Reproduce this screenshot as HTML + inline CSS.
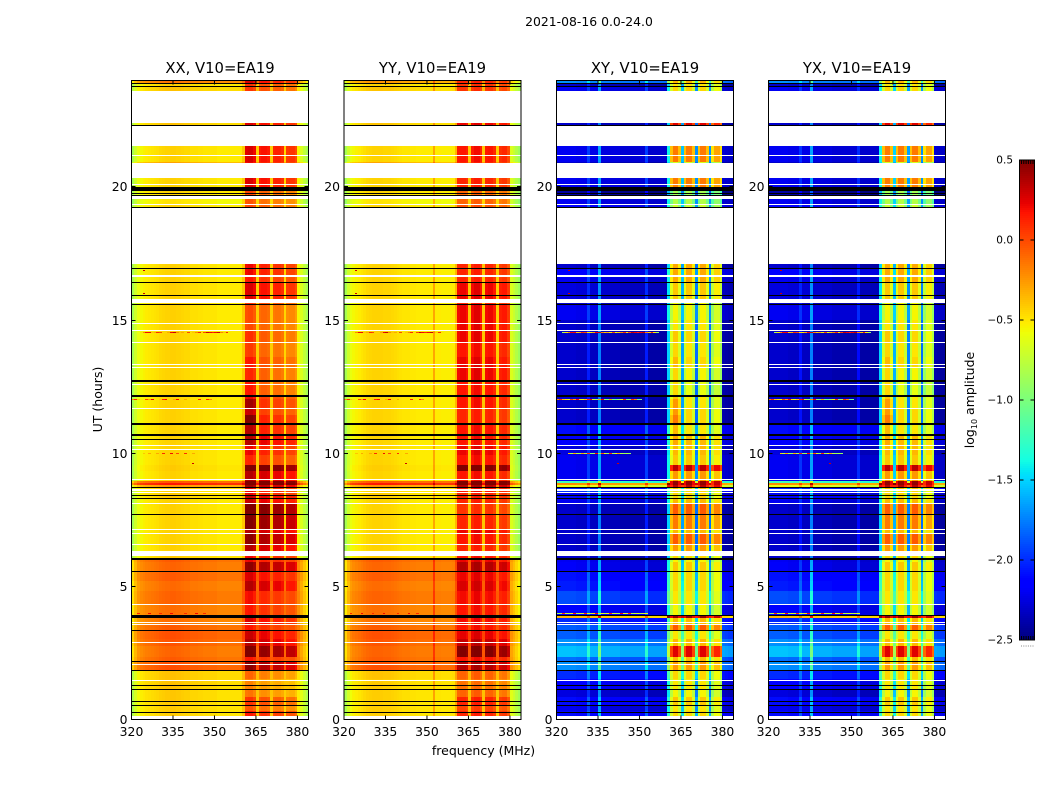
<!DOCTYPE html>
<html>
<head>
<meta charset="utf-8">
<style>
html,body{margin:0;padding:0;background:#fff;}
svg{display:block;}
text{font-family:"DejaVu Sans","Liberation Sans",sans-serif;fill:#000;}
</style>
</head>
<body>
<svg id="chart" xmlns="http://www.w3.org/2000/svg" width="1050" height="800" viewBox="0 0 1050 800">
<rect x="0" y="0" width="1050" height="800" fill="#fff"/>
<text x="589" y="26" font-size="12.4" text-anchor="middle">2021-08-16 0.0-24.0</text>
<text x="483.5" y="755" font-size="12.5" text-anchor="middle">frequency (MHz)</text>
<text transform="translate(102,399.5) rotate(-90)" font-size="12.5" text-anchor="middle">UT (hours)</text>
<text transform="translate(974,400) rotate(-90)" font-size="12.5" text-anchor="middle">log<tspan font-size="8" dy="3">10</tspan><tspan dy="-3"> amplitude</tspan></text>
<g id="panels"></g>
<g id="colorbar"></g>
</svg>
<script>
const panelTitles = ['XX, V10=EA19', 'YY, V10=EA19', 'XY, V10=EA19', 'YX, V10=EA19'];
const xTicks = [320, 335, 350, 365, 380];
const yTicks = [0, 5, 10, 15, 20];
const cbTicks = [-2.5, -2.0, -1.5, -1.0, -0.5, 0.0, 0.5];
const cbLabels = ['\u22122.5', '\u22122.0', '\u22121.5', '\u22121.0', '\u22120.5', '0.0', '0.5'];

// UT hour edges of the time segments
const hourEdges = [0,.11,.30,.55,.85,1.15,1.5,1.84,2.17,2.35,2.75,3.0,3.34,3.56,3.79,3.87,4.34,4.8,5.2,5.55,5.9,6.01,6.14,6.31,6.56,6.98,7.13,7.69,8.1,8.29,8.41,8.48,8.53,8.58,8.63,8.7,8.8,8.86,8.95,9.3,9.55,9.9,10.28,10.68,11.09,11.4,11.67,12.0,12.14,12.7,13.2,13.6,14.14,14.6,15.0,15.56,15.63,15.77,16.4,16.6,16.67,16.9,17.08,19.18,19.35,19.52,19.65,19.96,20.32,20.83,20.9,21.51,22.26,22.38,23.58,23.76,23.86,24];

// spectrum per 1 MHz channel, log10 amplitude
const specXX = [-.85,-.7,-.6,-.56,-.54,-.52,-.51,-.5,-.49,-.48,-.46,-.45,-.44,-.44,-.43,-.43,-.44,-.44,-.45,-.46,-.46,-.48,-.48,-.48,-.49,-.49,-.5,-.5,-.5,-.5,-.5,-.52,-.52,-.52,-.52,-.52,-.52,-.52,-.52,-.52,-.4,.1,.12,.12,.06,-.42,0,.03,.03,0,-.42,-.04,-.02,-.02,-.06,-.45,-.1,-.08,-.08,-.15,-.55,-.65,-.75,-.85];
const specYY = [-.85,-.7,-.6,-.56,-.54,-.52,-.5,-.48,-.46,-.45,-.44,-.44,-.44,-.44,-.45,-.45,-.45,-.46,-.47,-.48,-.49,-.5,-.5,-.5,-.51,-.51,-.52,-.52,-.52,-.52,-.52,-.52,-.3,-.52,-.52,-.53,-.53,-.53,-.53,-.52,-.35,.1,.12,.12,.08,-.4,.1,.15,.15,.08,-.4,.1,.12,.12,.05,-.42,.03,.06,.06,-.05,-.65,-.72,-.8,-.88];
const specXY = [-2.3,-2.3,-2.3,-2.3,-2.3,-2.3,-2.3,-2.32,-2.32,-2.32,-2.32,-2.05,-2.33,-2.33,-2.33,-1.75,-2.35,-2.35,-2.35,-2.35,-2.35,-2.35,-2.35,-2.38,-2.38,-2.38,-2.38,-2.38,-2.38,-2.38,-2.38,-2.38,-2.05,-2.4,-2.4,-2.4,-2.4,-2.4,-2.4,-2.4,-1.5,-.78,-.55,-.55,-.78,-1.65,-.78,-.55,-.55,-.78,-1.8,-.78,-.55,-.55,-.78,-1.8,-.9,-.68,-.68,-.9,-2.38,-2.4,-2.42,-2.42];
const specYX = [-2.3,-2.3,-2.3,-2.3,-2.3,-2.3,-2.3,-2.32,-2.32,-2.32,-2.32,-2.08,-2.33,-2.33,-2.33,-1.75,-2.35,-2.35,-2.35,-2.35,-2.35,-2.35,-2.35,-2.38,-2.38,-2.38,-2.38,-2.38,-2.38,-2.38,-2.38,-2.38,-2.1,-2.4,-2.4,-2.4,-2.4,-2.4,-2.4,-2.4,-1.5,-.78,-.55,-.55,-.78,-1.6,-.78,-.55,-.55,-.78,-1.75,-.78,-.55,-.55,-.78,-1.8,-.9,-.68,-.68,-.9,-2.38,-2.4,-2.42,-2.42];

// per-segment level offsets: background channels and receiver-band channels (null = no data)
const N = null;
const lowXX = [N,.02,.02,.03,.03,.05,.05,.42,.38,.35, .4,.42,.38,.32,.5,.32,.36,.33,.38,.35, .38,.02,N,0,0,0,0,0,0,.02, .02,N,0,N,.05,.2,.6,.4,0,.02, 0,0,0,0,0,0,0,0,0,0, 0,0,0,0,0,0,N,0,0,N, 0,0,N,0,-.05,N,0,0,N,.15, 0,N,.05,N,.05,0,.3];
const highXX = [N,.05,-.15,-.05,-.25,-.3,-.2,.35,.05,.42, .25,.2,.05,.15,.5,.05,.08,.25,.15,.35, .1,.1,N,.25,.35,.25,.4,.45,.2,.2, .1,N,.1,N,.1,.3,.6,.55,.25,.5, 0,.1,.2,.1,.1,0,.05,0,-.1,-.1, -.05,-.12,-.08,-.12,-.12,-.05,N,.15,.05,N, .1,.1,N,-.1,-.15,N,-.1,.15,N,.1, .15,N,.15,N,-.05,-.05,.15];
const lowYY = [N,.02,.02,.02,.02,.03,.05,.42,.38,.36, .4,.42,.38,.32,.5,.32,.36,.33,.38,.35, .38,.02,N,0,0,0,0,0,0,.02, .02,N,0,N,.05,.2,.6,.4,0,.02, 0,0,0,0,0,0,0,0,0,0, 0,0,0,0,0,0,N,0,0,N, 0,0,N,0,-.05,N,0,0,N,.15, 0,N,.05,N,.05,0,.2];
const highYY = [N,0,-.1,0,-.2,-.25,-.2,.25,.05,.38, .2,.12,.05,.08,.4,.05,.08,.15,.1,.25, .1,.05,N,0,.05,.1,0,-.05,0,0, 0,N,.05,N,.05,.25,.5,.5,.05,.4, .05,.1,.05,.05,0,0,.05,.05,.05,.1, .1,.05,.1,.1,.1,0,N,.1,0,N, 0,0,N,-.15,-.2,N,-.2,0,N,0, .05,N,.1,N,-.05,-.05,0];
const lowXY = [N,.2,.1,.2,.05,.15,.3,.6,.5,.75, .6,.45,.45,.3,1.95,.15,.4,.25,.22,.12, .1,0,N,0,0,0,0,0,.1,.2, .1,N,.3,N,.3,1.7,2.1,1.1,.1,.1, .1,.05,.15,.2,0,0,0,0,0,0, 0,0,0,0,.1,0,N,.05,.1,N, .15,0,N,.15,.1,N,-.1,.1,N,0, .1,N,0,N,.1,0,.6];
const highXY = [N,.1,.05,.15,0,.05,.1,.3,.2,.8, .2,.05,.5,.2,1.0,0,.05,.1,.1,.15, 0,.1,N,.3,.5,.2,.4,.5,.2,.1, .1,N,.1,N,.2,.9,1.0,1.0,.3,.9, .15,.2,.2,.05,.1,.1,.05,.05,-.05,0, .1,.05,.1,.05,0,0,N,.15,.25,N, .25,.25,N,-.15,-.25,N,-.3,.4,N,-.1, .4,N,.8,N,.1,.05,.2];
const lowYX = [N,.2,.1,.2,.05,.15,.3,.6,.5,.75, .6,.45,.45,.3,1.95,.15,.4,.25,.22,.12, .1,0,N,0,0,0,0,0,.1,.2, .1,N,.3,N,.3,1.7,2.1,1.1,.1,.1, .1,.05,.15,.2,0,0,0,0,0,0, 0,0,0,0,.1,0,N,.05,.1,N, .15,0,N,.15,.1,N,-.1,.1,N,0, .1,N,0,N,.1,0,.6];
const highYX = [N,.1,.05,.15,0,.05,.1,.3,.2,.8, .2,.05,.5,.2,1.0,0,.05,.1,.1,.15, 0,.1,N,.3,.5,.2,.4,.5,.2,.1, .1,N,.1,N,.2,.9,1.0,1.0,.3,.9, .15,.2,.2,.05,.1,.1,.05,.05,-.05,0, .1,.05,.1,.05,0,0,N,.15,.25,N, .25,.25,N,-.15,-.25,N,-.3,.4,N,-.1, .4,N,.8,N,.1,.05,.2];
// extra level of the 361-365 MHz band in XX, XY and YX, per segment
const firstBandBoost = [0,0,0,0,0,0,0,0,0,0, 0,0,0,0,0,0,0,0,0,0, 0,0,0,0,0,0,0,0,0,0, 0,0,0,0,0,0,0,0,0,0, 0,0,.05,.15,.3,.2,.25,.1,.15,.1, .1,.05,.05,0,0,0,0,0,0,0, 0,0,0,0,0,0,0,0,0,0, 0,0,0,0,0,0,0];

// flagged integrations (UT hour and duration in hours)
const flagHours = [23.86,23.76,22.29,19.9,19.75,19.67,19.2,16.9,16.4,15.91,15.56,12.7,12.14,11.09,10.68,10.5,8.7,8.41,8.29,7.69,6.01,5.55,3.91,3.34,2.17,1.84,1.27,1.12,.67,.52,.26];
const flagSpans = [.03,.03,.04,.14,.03,.03,.04,.04,.04,.05,.05,.09,.07,.07,.07,.04,.04,.04,.04,.04,.08,.04,.04,.04,.04,.04,.04,.04,.04,.04,.04];
const autoFlagHours = [3.83];
const autoFlagSpans = [.08];
const gapHours = [21.19,20.87,20.08,19.35,14.86,14.6,14.14,13.32,13.22,12.57,11.67,10.28,10.13,9.03,8.1,7.13,6.98,6.56,4.34,3.64,3.56,2.89,2.06,1.46];

// narrow-band interference rows, one value per channel
const rfiHours = [14.52, 12.0, 10.0, 4.0];
const rfi14 = [N,N,-.8,-.5,-.2,.2,.2,-.4,-.3,.1,0,-.5,-.5,-.3,.2,.3,-.2,-.4,-.3,-.5,0,-.6,-.4,-.2,.1,-.5,0,.3,.2,.1,.2,.3,-.2,-.4,.1,-.5,-.9];
const rfi12 = [-.2,.1,-.4,-.5,-.6,0,-.3,.2,-.5,-.6,-.4,.1,.2,-.7,-.9,-.3,.2,-.9,-1,-.3,-1,-1.1,-.9,-.6,.1,-1,-.9,.1,-.2,-1.1,-1];
const rfi10 = [N,N,N,N,-.4,-.8,-.3,-.8,-.9,-.3,-.8,.1,-.9,-.9,.2,-.9,0,-.6,-.9,.1,-.9,-.6,-.3,-.8,-.9,-.8,-.9];
const rfi4 = [-.9,-.8,.1,-.7,-.8,-.6,.2,-.8,-.6,-.7,.1,-.6,-.8,-.5,.2,-.7,-.6,-.8,-.6,.1,-.7,-.7,-.8,.2,-.6,-.7,.1,-.8,-.7,-.6,-.8,-.7,-.6];
const spikeHours = [16.85, 16.4, 16.0, 9.6];
const spikeChans = [4, 4, 4, 22];
const spikeValues = [.3, .2, .3, .3];

const panelSpecs = [specXX, specYY, specXY, specYX];
const panelLows = [lowXX, lowYY, lowXY, lowYX];
const panelHighs = [highXX, highYY, highXY, highYX];
const rfiRows = [rfi14, rfi12, rfi10, rfi4];

const SVGNS = 'http://www.w3.org/2000/svg';
const panelLefts = [131.5, 344, 556.5, 768.5];
const panelW = 177, axTop = 80.5, axBottom = 719.5;
const hourPx = 26.65;
const chanPx = panelW / 64;
const scaleY = h => 719.25 - h * hourPx;
const scaleX = (left, f) => left + (f - 320) * chanPx;
const blockChans = [41,42,43,44,46,47,48,49,51,52,53,54,56,57,58,59];

function interp(t, pts) {
  for (let i = 1; i < pts.length; i++) {
    if (t <= pts[i][0]) {
      const a = pts[i - 1], b = pts[i];
      return a[1] + (b[1] - a[1]) * (t - a[0]) / (b[0] - a[0]);
    }
  }
  return pts[pts.length - 1][1];
}
function jet(v) {
  const t = Math.max(0, Math.min(1, (v + 2.5) / 3));
  const r = interp(t, [[0,0],[.35,0],[.66,1],[.89,1],[1,.5]]);
  const g = interp(t, [[0,0],[.125,0],[.375,1],[.64,1],[.91,0],[1,0]]);
  const b = interp(t, [[0,.5],[.11,1],[.34,1],[.65,0],[1,0]]);
  return 'rgb(' + Math.round(r * 255) + ',' + Math.round(g * 255) + ',' + Math.round(b * 255) + ')';
}
function make(tag, parent, attrs) {
  const el = document.createElementNS(SVGNS, tag);
  for (const k in attrs) el.setAttribute(k, attrs[k]);
  parent.appendChild(el);
  return el;
}

const panelsRoot = document.getElementById('panels');
panelTitles.forEach((title, p) => {
  const left = panelLefts[p];
  const g = make('g', panelsRoot, {});
  
  
  const spec = panelSpecs[p], low = panelLows[p], high = panelHighs[p];
  const cells = make('g', g, {'shape-rendering': 'crispEdges'});
  
  

  for (let s = 0; s < low.length; s++) {
    if (low[s] === null) continue;
    const y0 = Math.round(scaleY(hourEdges[s + 1])), y1 = Math.round(scaleY(hourEdges[s]));
    if (y1 <= y0) continue;
    for (let c = 0; c < 64; c++) {
      let off = blockChans.indexOf(c) >= 0 ? high[s] : low[s];
      if (p !== 1 && c >= 41 && c <= 44) off += firstBandBoost[s];
      const x0 = Math.round(scaleX(left, 320 + c)), x1 = Math.round(scaleX(left, 321 + c));
      const cell = make('rect', cells, {x: x0, y: y0, width: x1 - x0, height: y1 - y0, fill: jet(spec[c] + off)});
      
      
    }
  }
  rfiHours.forEach((h, r) => {
    const row = rfiRows[r];
    for (let c = 0; c < row.length; c++) {
      if (row[c] === null) continue;
      if (p < 2 && row[c] < spec[c]) continue;
      const x0 = Math.round(scaleX(left, 320 + c)), x1 = Math.round(scaleX(left, 321 + c));
      const cell = make('rect', cells, {x: x0, y: Math.round(scaleY(h)), width: x1 - x0, height: 1, fill: jet(row[c])});
      
      
    }
  });
  spikeHours.forEach((h, i) => {
    const x0 = Math.round(scaleX(left, 320 + spikeChans[i]));
    const cell = make('rect', cells, {x: x0, y: Math.round(scaleY(h)), width: 2, height: 1, fill: jet(spikeValues[i])});
    
    
  });
  gapHours.forEach(h => {
    const line = make('rect', cells, {x: left, y: Math.round(scaleY(h)), width: panelW, height: 1, fill: '#fff'});
    
    
  });
  const drawFlag = (h, span) => {
    const y = Math.round(scaleY(h + span / 2));
    const line = make('rect', cells, {x: left, y: y, width: panelW, height: Math.max(1, Math.round(span * hourPx)), fill: '#000'});
    
    
  };
  flagHours.forEach((h, i) => drawFlag(h, flagSpans[i]));
  if (p < 2) autoFlagHours.forEach((h, i) => drawFlag(h, autoFlagSpans[i]));

  const frame = make('rect', g, {x: left, y: axTop, width: panelW, height: axBottom - axTop, fill: 'none', stroke: '#000', 'stroke-width': 1});
  
  

  xTicks.forEach(f => {
    const x = scaleX(left, f);
    const t1 = make('line', g, {x1: x, x2: x, y1: axBottom, y2: axBottom - 4, stroke: '#000', 'stroke-width': 1});
    
    
    const t2 = make('line', g, {x1: x, x2: x, y1: axTop, y2: axTop + 4, stroke: '#000', 'stroke-width': 1});
    
    
    const lab = make('text', g, {x: x, y: 736, 'font-size': 12.4, 'text-anchor': 'middle'});
    
    
    lab.textContent = f;
  });
  yTicks.forEach(h => {
    const y = Math.round(scaleY(h)) + 0.5;
    const t1 = make('line', g, {x1: left, x2: left + 4, y1: y, y2: y, stroke: '#000', 'stroke-width': 1});
    
    
    const t2 = make('line', g, {x1: left + panelW, x2: left + panelW - 4, y1: y, y2: y, stroke: '#000', 'stroke-width': 1});
    
    
    const lab = make('text', g, {x: left - 4, y: y + 4.5, 'font-size': 12.4, 'text-anchor': 'end'});
    
    
    lab.textContent = h;
  });
  const tt = make('text', g, {x: left + panelW / 2, y: 73, 'font-size': 14.8, 'text-anchor': 'middle'});
  
  
  tt.textContent = title;
});

// colorbar
const cb = document.getElementById('colorbar');
const cbX = 1019.5, cbW = 15, cbTop = 160, cbBot = 640;
const cbY = v => cbBot - (v + 2.5) / 3 * (cbBot - cbTop);
const cbRamp = make('g', cb, {'shape-rendering': 'crispEdges'});


for (let y = cbTop; y < cbBot; y += 2) {
  const r = make('rect', cbRamp, {x: cbX, y: y, width: cbW, height: 2, fill: jet(-2.5 + (cbBot - y - 1) / (cbBot - cbTop) * 3)});
  
  
}
const cbFrame = make('rect', cb, {x: cbX, y: cbTop, width: cbW, height: cbBot - cbTop, fill: 'none', stroke: '#000', 'stroke-width': 1});


cbTicks.forEach((v, i) => {
  const y = cbY(v);
  const a = make('line', cb, {x1: cbX, x2: cbX + 4, y1: y, y2: y, stroke: '#000', 'stroke-width': 1});
  
  
  const b = make('line', cb, {x1: cbX + cbW, x2: cbX + cbW - 4, y1: y, y2: y, stroke: '#000', 'stroke-width': 1});
  
  
  const lab = make('text', cb, {x: 1013, y: y + 3.5, 'font-size': 10.5, 'text-anchor': 'end'});
  
  
  lab.textContent = cbLabels[i];
});
for (let i = 0; i < 6; i++) {
  const x = cbX + 2 + i * 2.3;
  const m1 = make('line', cb, {x1: x, x2: x, y1: cbTop, y2: cbTop + 4, stroke: '#000', 'stroke-width': 1});
  
  
  const m2 = make('line', cb, {x1: x, x2: x, y1: cbBot, y2: cbBot - 4, stroke: '#000', 'stroke-width': 1});
  
  
  const dot = make('rect', cb, {x: x - 0.5, y: 645.5, width: 1, height: 1, fill: '#888'});
  
  
}
</script>
</body>
</html>
